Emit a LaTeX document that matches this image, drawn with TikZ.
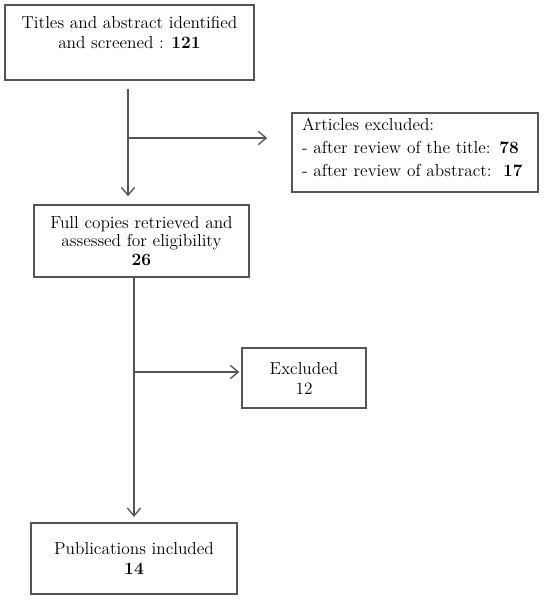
\documentclass[tikz,border=0pt]{standalone}
\usetikzlibrary{arrows.meta}

\definecolor{linegray}{RGB}{85,85,85}
\tikzset{every picture/.style={line width=0.75pt}}
\tikzset{
	boxnode/.style={draw=linegray, line width=1.1pt, align=center, font=\fontsize{13}{15}\selectfont, inner sep=2pt},
	flowline/.style={draw=linegray, line width=1.1pt},
	flowarrow/.style={flowline, -{Straight Barb[length=6pt,width=10pt,line width=1pt]}}
}

\begin{document}
\begin{tikzpicture}[x=0.75pt,y=0.75pt,yscale=-1,xscale=1]
	%set diagram left start at 0, and has height of 600
	\useasboundingbox (0,0) rectangle (546,600);
	
	% Text Node
	\node[boxnode, minimum width=186.75pt, minimum height=56.25pt] (screened) at (129.5,42.5) {Titles and abstract identified\\and screened : \textbf{121}\\\mbox{}};
	% Text Node
	\node[boxnode, align=left, text width=169.5pt, inner xsep=7.5pt, inner ysep=1pt, minimum height=59.25pt, font=\fontsize{13}{17}\selectfont] (excludedone) at (415,152.5) {Articles excluded:\\- after review of the title: \textbf{78}\\- after review of abstract:\ \ \textbf{17}\\[-9pt]\mbox{}};
	% Text Node
	\node[boxnode, minimum width=161.25pt, minimum height=54pt, font=\fontsize{13}{14}\selectfont] (retrieved) at (141.5,241) {Full copies retrieved and\\assessed for eligibility\\\textbf{26}};
	% Text Node
	\node[boxnode, minimum width=93pt, minimum height=45pt] (excludedtwo) at (304,378) {Excluded\\12};
	% Text Node
	\node[boxnode, minimum width=154.5pt, minimum height=53.25pt] (included) at (134,558.5) {Publications included\\\textbf{14}};
	
	%Junctions
	\coordinate (splitone) at (128,138);
	\coordinate (splittwo) at (134,372);
	
	%Straight Lines
	\draw[flowarrow, shorten <=6pt, shorten >=6pt] (screened.south -| splitone) -- (retrieved.north -| splitone);
	%Straight Lines
	\draw[flowarrow, shorten >=18pt] (splitone) -- (excludedone.west |- splitone);
	%Straight Lines
	\draw[flowarrow, shorten >=4pt] (retrieved.south -| splittwo) -- (included.north -| splittwo);
	%Straight Lines
	\draw[flowarrow, shorten >=1.5pt] (splittwo) -- (excludedtwo.west |- splittwo);
	
\end{tikzpicture}
\end{document}
